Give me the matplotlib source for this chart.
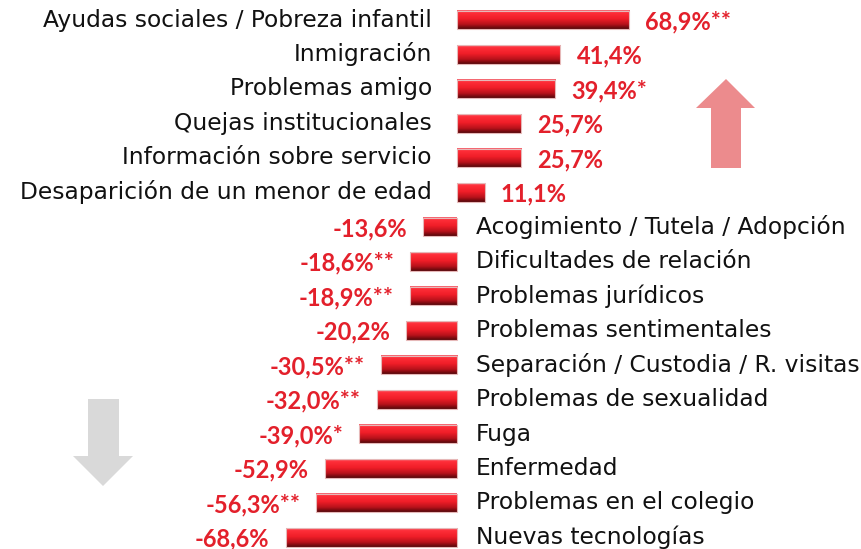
import numpy as np
import matplotlib
matplotlib.use("Agg")
import matplotlib.pyplot as plt
from matplotlib.patches import Polygon, Rectangle
from matplotlib.colors import to_rgb

# datos
categorias = [
    "Ayudas sociales / Pobreza infantil",
    "Inmigración",
    "Problemas amigo",
    "Quejas institucionales",
    "Información sobre servicio",
    "Desaparición de un menor de edad",
    "Acogimiento / Tutela / Adopción",
    "Dificultades de relación",
    "Problemas jurídicos",
    "Problemas sentimentales",
    "Separación / Custodia / R. visitas",
    "Problemas de sexualidad",
    "Fuga",
    "Enfermedad",
    "Problemas en el colegio",
    "Nuevas tecnologías",
]
valores = [68.9, 41.4, 39.4, 25.7, 25.7, 11.1, -13.6, -18.6, -18.9, -20.2,
           -30.5, -32.0, -39.0, -52.9, -56.3, -68.6]
signif = ["**", "", "*", "", "", "", "", "**", "**", "", "**", "**", "*", "", "**", ""]

W, H = 862, 549
fig = plt.figure(figsize=(W / 100, H / 100), dpi=100)
ax = fig.add_axes([0, 0, 1, 1])
ax.axis("off")

# escala: 2.5 px por punto porcentual, cero en x=457
px = 2.5
x0 = 457
xmin, xmax = -x0 / px, (W - x0) / px
y_top, paso = 20, 34.5
ymin, ymax = -y_top / paso, (H - y_top) / paso
alto = 0.55

# degradado tipo cilindro
paradas = [(0.0, "#f3707a"), (0.12, "#ff2f3a"), (0.45, "#f01e28"),
           (0.75, "#b8121b"), (1.0, "#55070a")]
n = 64
t = np.linspace(0, 1, n)
pos = [p for p, _ in paradas]
cols = np.array([to_rgb(c) for _, c in paradas])
grad = np.stack([np.interp(t, pos, cols[:, k]) for k in range(3)], axis=1)
grad = grad[:, None, :]

rojo = "#e3202b"
fuente_val = dict(fontsize=17, fontweight="bold", color=rojo, family=["Lato", "DejaVu Sans"])
for i, (cat, v, s) in enumerate(zip(categorias, valores, signif)):
    ax.imshow(grad, extent=(min(0, v), max(0, v), i + alto / 2, i - alto / 2),
              aspect="auto", interpolation="bilinear", zorder=2)
    ax.add_patch(Rectangle((min(0, v), i - alto / 2), abs(v), alto, fill=False,
                           edgecolor="#e6b8b8", lw=0.8, zorder=3))
    etiqueta = f"{v:.1f}%".replace(".", ",") + s
    if v > 0:
        ax.text(-25 / px, i, cat, ha="right", va="center", fontsize=16.8, color="#111111")
        ax.text(v + 16 / px, i + 0.05, etiqueta, ha="left", va="center", **fuente_val)
    else:
        ax.text(19 / px, i, cat, ha="left", va="center", fontsize=16.8, color="#111111")
        ax.text(v - 16 / px, i + 0.05, etiqueta, ha="right", va="center", **fuente_val)

ax.set_xlim(xmin, xmax)
ax.set_ylim(ymax, ymin)


def flecha(puntos, color):
    pts = [(x / W, 1 - y / H) for x, y in puntos]
    fig.patches.append(Polygon(pts, closed=True, transform=fig.transFigure,
                               facecolor=color, edgecolor="none"))


flecha([(726, 79), (755, 108), (741, 108), (741, 168), (711, 168), (711, 108), (696, 108)],
       "#ec8b8d")
flecha([(103, 486), (133, 456), (119, 456), (119, 399), (88, 399), (88, 456), (73, 456)],
       "#d9d9d9")

fig.savefig("out.png", dpi=100, facecolor="white")
